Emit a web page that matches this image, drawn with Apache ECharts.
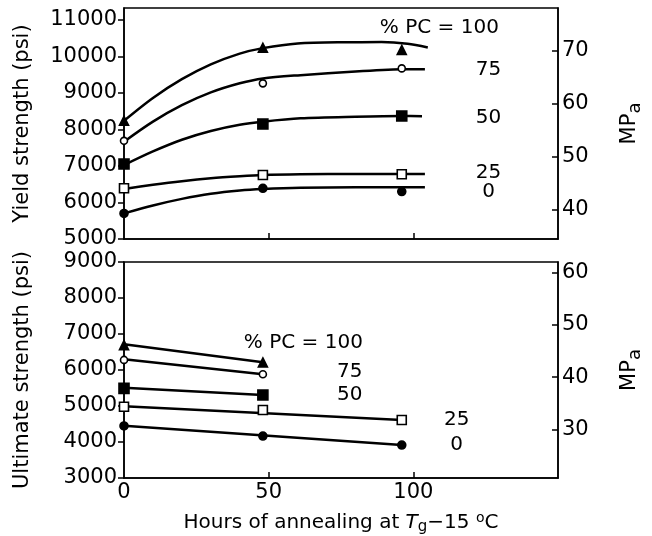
<!DOCTYPE html>
<html>
<head>
<meta charset="utf-8">
<script src="https://cdn.jsdelivr.net/npm/echarts@6/dist/echarts.min.js"></script>
<style>html,body{margin:0;padding:0;background:#fff}#c{width:652px;height:536px}</style>
</head>
<body>
<div id="c"></div>
<script>
// ---------- data ----------
const hourTicks = [0, 50, 100];
const yieldTicks = [5000, 6000, 7000, 8000, 9000, 10000, 11000];
const yieldMPaTicks = [40, 50, 60, 70];
const ultTicks = [3000, 4000, 5000, 6000, 7000, 8000, 9000];
const ultMPaTicks = [30, 40, 50, 60];

// Yield strength measured points (hours 0, 48, 96)
const yieldHours = [0, 48, 96];
const yield100 = [8240, 10240, 10180];
const yield75 = [7690, 9265, 9675];
const yield50 = [7055, 8150, 8370];
const yield25 = [6390, 6755, 6775];
const yield0 = [5700, 6390, 6300];

// Yield strength fitted curves [hours, psi]
const yieldCurve100 = [[0, 8240], [10, 8865], [20, 9380], [30, 9785], [40, 10080], [48, 10230], [60, 10360], [75, 10392], [89, 10395], [98, 10350], [105, 10250]];
const yieldCurve75 = [[0, 7666], [10, 8216], [20, 8666], [30, 9016], [40, 9266], [48, 9400], [61, 9490], [80, 9590], [96, 9650], [104, 9655]];
const yieldCurve50 = [[0, 7027], [10, 7400], [20, 7720], [30, 7960], [40, 8130], [48, 8214], [61, 8306], [80, 8350], [96, 8370], [103, 8365]];
const yieldCurve25 = [[0, 6370], [10, 6485], [20, 6585], [30, 6665], [40, 6720], [48, 6753], [61, 6772], [80, 6780], [104, 6780]];
const yieldCurve0 = [[0, 5703], [10, 5920], [20, 6100], [30, 6240], [40, 6330], [48, 6370], [61, 6405], [80, 6418], [104, 6420]];

// Ultimate strength measured points
const ultHoursShort = [0, 48];
const ultHoursLong = [0, 48, 96];
const ult100 = [6690, 6210];
const ult75 = [6280, 5880];
const ult50 = [5490, 5305];
const ult25 = [4980, 4890, 4610];
const ult0 = [4445, 4165, 3915];

// Ultimate strength fitted lines [hours, psi]
const ultLine100 = [[0, 6714], [48, 6213]];
const ultLine75 = [[0, 6297], [48, 5880]];
const ultLine50 = [[0, 5509], [48, 5306]];
const ultLine25 = [[0, 4990], [96, 4611]];
const ultLine0 = [[0, 4450], [96, 3917]];

// Curve labels [hours, psi, text]
const yieldLabels = [[109, 10780, '% PC = 100'], [126, 9630, '75'], [126, 8315, '50'], [126, 6808, '25'], [126, 6288, '0']];
const ultLabels = [[62, 6750, '% PC = 100'], [78, 5944, '75'], [78, 5306, '50'], [115, 4611, '25'], [115, 3917, '0']];

// ---------- chart ----------
const PSI_PER_MPA = 145.038;
const FONT = 'DejaVu Sans';
const BLACK = '#000';
const chart = echarts.init(document.getElementById('c'), null, {renderer: 'canvas'});

const styles = {
  '100': {symbol: 'triangle', size: 9, fill: BLACK},
  '75': {symbol: 'circle', size: 7, fill: '#fff'},
  '50': {symbol: 'rect', size: 10, fill: BLACK},
  '25': {symbol: 'rect', size: 9, fill: '#fff'},
  '0': {symbol: 'circle', size: 8, fill: BLACK}
};

function pts(hours, vals) { return vals.map((v, i) => [hours[i], v]); }

function lineSeries(data, panel, smooth) {
  return {
    type: 'line', xAxisIndex: panel, yAxisIndex: panel * 2, data: data,
    showSymbol: false, smooth: smooth ? 0.3 : false,
    lineStyle: {color: BLACK, width: 2.5}, silent: true, z: 2
  };
}
function markSeries(data, panel, key) {
  const s = styles[key];
  return {
    type: 'scatter', xAxisIndex: panel, yAxisIndex: panel * 2, data: data,
    symbol: s.symbol, symbolSize: s.size,
    itemStyle: {color: s.fill, borderColor: BLACK, borderWidth: 1.6, opacity: 1},
    silent: true, z: 3
  };
}
function labelSeries(data, panel) {
  return {
    type: 'scatter', xAxisIndex: panel, yAxisIndex: panel * 2, data: data,
    symbolSize: 0.001, silent: true, z: 4,
    itemStyle: {opacity: 1, color: BLACK},
    label: {show: true, position: 'inside', formatter: p => p.data[2], color: BLACK,
      opacity: 1, textBorderWidth: 0, fontSize: 20, fontFamily: FONT}
  };
}

const axisLine = {show: true, onZero: false, lineStyle: {color: BLACK, width: 1.5}};
const tickStyle = {color: BLACK, width: 1.5};
const labelBase = {color: BLACK, fontSize: 21, fontFamily: FONT, formatter: v => String(v)};

function leftAxis(grid, min, max, ticks, name) {
  return {
    type: 'value', gridIndex: grid, position: 'left', min: min, max: max,
    axisLine: axisLine, splitLine: {show: false},
    axisTick: {show: true, inside: false, length: 6, lineStyle: tickStyle, customValues: ticks},
    axisLabel: Object.assign({margin: 7, customValues: ticks}, labelBase),
    name: name, nameLocation: 'middle', nameRotate: 90, nameGap: 91,
    nameTextStyle: {color: BLACK, fontSize: 21, fontFamily: FONT}
  };
}
function rightAxis(grid, min, max, ticks) {
  return {
    type: 'value', gridIndex: grid, position: 'right', min: min / PSI_PER_MPA, max: max / PSI_PER_MPA,
    axisLine: axisLine, splitLine: {show: false},
    axisTick: {show: true, inside: true, length: 6, lineStyle: tickStyle, customValues: ticks},
    axisLabel: Object.assign({margin: 4, customValues: ticks}, labelBase),
    name: '{m|MP}{s|a}', nameLocation: 'middle', nameRotate: 90, nameGap: 58,
    nameTextStyle: {color: BLACK, fontSize: 21, fontFamily: FONT,
      rich: {m: {fontSize: 21, fontFamily: FONT, color: BLACK}, s: {fontSize: 18, fontFamily: FONT, color: BLACK, padding: [10, 0, 0, 0]}}}
  };
}
function xAxis(grid, showLabels) {
  const ax = {
    type: 'value', gridIndex: grid, min: 0, max: 150,
    axisLine: axisLine, splitLine: {show: false},
    axisTick: {show: true, inside: true, length: 6, lineStyle: tickStyle, customValues: [50, 100]},
    axisLabel: Object.assign({show: showLabels, margin: 4, customValues: hourTicks}, labelBase)
  };
  if (showLabels) {
    ax.name = 'Hours of annealing at {i|T}{sub|g}\u221215 {deg|o}C';
    ax.nameLocation = 'middle';
    ax.nameGap = 32;
    ax.nameTextStyle = {color: BLACK, fontSize: 20, fontFamily: FONT,
      rich: {
        i: {fontSize: 20, fontStyle: 'italic', fontFamily: FONT, color: BLACK},
        sub: {fontSize: 15, fontFamily: FONT, color: BLACK, padding: [10, 0, 0, 0]},
        deg: {fontSize: 14, fontFamily: FONT, color: BLACK, padding: [0, 0, 8, 0]}
      }};
  }
  return ax;
}

const gridBox = {show: true, borderColor: BLACK, borderWidth: 1.5, backgroundColor: 'transparent'};

const option = {
  backgroundColor: '#fff',
  animation: false,
  textStyle: {fontFamily: FONT},
  grid: [
    Object.assign({left: 124, top: 8, width: 435, height: 231, containLabel: false}, gridBox),
    Object.assign({left: 124, top: 262, width: 435, height: 216, containLabel: false}, gridBox)
  ],
  xAxis: [xAxis(0, false), xAxis(1, true)],
  yAxis: [
    leftAxis(0, 5000, 11330, yieldTicks, 'Yield strength (psi)'),
    rightAxis(0, 5000, 11330, yieldMPaTicks),
    leftAxis(1, 3000, 9000, ultTicks, 'Ultimate strength (psi)'),
    rightAxis(1, 3000, 9000, ultMPaTicks)
  ],
  series: [
    lineSeries(yieldCurve100, 0, true),
    lineSeries(yieldCurve75, 0, true),
    lineSeries(yieldCurve50, 0, true),
    lineSeries(yieldCurve25, 0, true),
    lineSeries(yieldCurve0, 0, true),
    markSeries(pts(yieldHours, yield100), 0, '100'),
    markSeries(pts(yieldHours, yield75), 0, '75'),
    markSeries(pts(yieldHours, yield50), 0, '50'),
    markSeries(pts(yieldHours, yield25), 0, '25'),
    markSeries(pts(yieldHours, yield0), 0, '0'),
    labelSeries(yieldLabels, 0),
    lineSeries(ultLine100, 1, false),
    lineSeries(ultLine75, 1, false),
    lineSeries(ultLine50, 1, false),
    lineSeries(ultLine25, 1, false),
    lineSeries(ultLine0, 1, false),
    markSeries(pts(ultHoursShort, ult100), 1, '100'),
    markSeries(pts(ultHoursShort, ult75), 1, '75'),
    markSeries(pts(ultHoursShort, ult50), 1, '50'),
    markSeries(pts(ultHoursLong, ult25), 1, '25'),
    markSeries(pts(ultHoursLong, ult0), 1, '0'),
    labelSeries(ultLabels, 1)
  ]
};
chart.setOption(option);
</script>
</body>
</html>
